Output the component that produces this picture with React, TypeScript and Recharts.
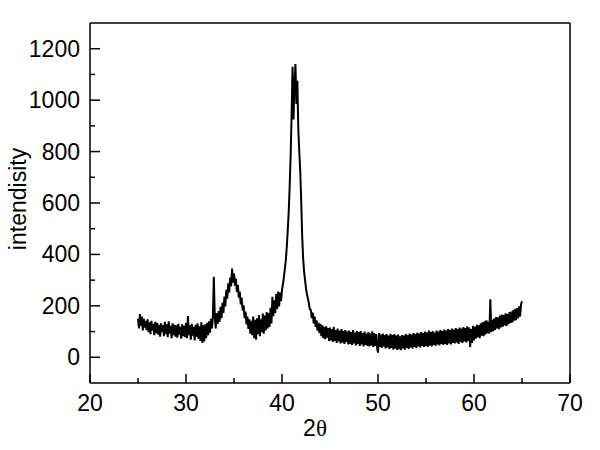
import { LineChart, Line, XAxis, YAxis, ReferenceLine } from "recharts";

// intensity every 0.1 degree (2θ)
const bgStart = 25;
const bgLow = [
  150, 112, 168, 122, 158, 104, 150, 115, 142, 106,
  148, 98, 136, 90, 142, 104, 130, 86, 138, 94,
  134, 88, 126, 80, 132, 98, 124, 82, 138, 90,
  128, 78, 140, 92, 122, 74, 132, 86, 126, 80,
  124, 76, 130, 88, 118, 72, 128, 82, 122, 78,
  134, 74, 160, 86, 124, 68, 130, 84, 118, 66,
  126, 80, 132, 72, 120, 64, 136, 56, 124, 62,
  128, 74, 134, 86, 140, 96, 150, 112, 156, 313,
];

const smallPeakStart = 33;
const smallPeak = [
  156, 112, 172, 130, 180, 138, 196, 152, 212, 172,
  236, 198, 262, 228, 288, 252, 310, 276, 345, 290,
  326, 278, 306, 254, 282, 232, 256, 206, 232, 182,
  202, 152, 178, 128, 158, 110, 148, 92, 142, 86,
  158, 74, 146, 68, 152, 90, 164, 82, 148, 98,
  170, 92, 162, 104, 176, 112, 172, 118, 192, 132,
  235, 160, 222, 172, 246, 188, 256, 198, 252, 218,
];

const mainPeakStart = 40;
const mainPeak = [
  262, 285, 312, 345, 378, 430, 495, 565, 665, 785,
  940, 1130, 925, 1060, 1140, 985, 1075, 885, 800, 725,
  610, 475, 385, 335, 300, 268, 245, 228, 210, 186,
  184, 152, 174, 132, 158, 118, 144, 104, 134, 94,
];

const bgHighStart = 44;
const bgHigh = [
  130, 82, 124, 74, 118, 70, 120, 76, 114, 64,
  116, 66, 110, 60, 118, 64, 106, 56, 112, 62,
  104, 54, 110, 58, 102, 52, 106, 60, 100, 50,
  104, 52, 98, 48, 106, 54, 96, 46, 102, 52,
  98, 44, 102, 50, 94, 42, 100, 48, 92, 44,
  98, 42, 92, 46, 101, 40, 94, 44, 90, 38,
  18, 94, 40, 88, 36, 92, 42, 86, 34, 90,
  38, 84, 32, 91, 36, 86, 30, 90, 34, 84,
  29, 88, 32, 82, 28, 86, 34, 84, 30, 90,
  36, 86, 32, 92, 38, 88, 34, 94, 40, 90,
  36, 96, 42, 92, 38, 98, 44, 94, 40, 100,
  44, 96, 40, 104, 46, 98, 42, 102, 48, 96,
  44, 104, 50, 100, 46, 106, 52, 102, 48, 108,
  52, 104, 48, 110, 54, 106, 50, 112, 56, 108,
  54, 114, 58, 110, 52, 116, 60, 112, 56, 118,
  62, 114, 58, 120, 64, 116, 40, 110, 56, 122,
  66, 118, 72, 126, 78, 124, 74, 132, 84, 136,
  82, 140, 89, 144, 94, 138, 92, 226, 99, 146,
  102, 151, 106, 156, 112, 154, 109, 162, 116, 166,
  119, 164, 124, 171, 122, 168, 129, 176, 134, 178,
  136, 184, 142, 188, 144, 191, 152, 198, 159, 206,
  218,
];

const xTicks = [20, 25, 30, 35, 40, 45, 50, 55, 60, 65, 70];
const yTicks = [0, 100, 200, 300, 400, 500, 600, 700, 800, 900, 1000, 1100, 1200];

const segment = (start: number, values: number[]) =>
  values.map((v, i) => ({ angle: Math.round((start + i * 0.1) * 10) / 10, value: v }));

const data = [
  ...segment(bgStart, bgLow),
  ...segment(smallPeakStart, smallPeak),
  ...segment(mainPeakStart, mainPeak),
  ...segment(bgHighStart, bgHigh),
];

const FONT = "Liberation Sans, Arial, sans-serif";

const XTick = (props: any) => {
  const { x, y, payload } = props;
  const major = payload.value % 10 === 0;
  return (
    <g>
      <line x1={x} x2={x} y1={y} y2={y - (major ? 9 : 5)} stroke="#000" strokeWidth={1.5} />
      {major && (
        <text x={x} y={y + 28} textAnchor="middle" fontSize={23} fontFamily={FONT} fill="#000">
          {payload.value}
        </text>
      )}
    </g>
  );
};

const YTick = (props: any) => {
  const { x, y, payload } = props;
  const major = payload.value % 200 === 0;
  return (
    <g>
      <line x1={x} x2={x + (major ? 10 : 5)} y1={y} y2={y} stroke="#000" strokeWidth={1.5} />
      {major && (
        <text x={x - 10} y={y + 8} textAnchor="end" fontSize={23} fontFamily={FONT} fill="#000">
          {payload.value}
        </text>
      )}
    </g>
  );
};

export default function App() {
  return (
    <div style={{ position: "absolute", left: 0, top: 0, background: "#fff" }}>
      <LineChart
        width={600}
        height={450}
        data={data}
        margin={{ top: 23, right: 30, left: 0, bottom: 0 }}
      >
        <XAxis
          dataKey="angle"
          type="number"
          domain={[20, 70]}
          ticks={xTicks}
          interval={0}
          height={67}
          tickSize={0}
          tickMargin={0}
          tickLine={false}
          axisLine={{ stroke: "#000", strokeWidth: 1.5 }}
          tick={<XTick />}
          label={{
            content: () => (
              <text x={315} y={436} textAnchor="middle" fontSize={23} fontFamily={FONT} fill="#000">
                <tspan>2</tspan>
                <tspan fontFamily="Liberation Serif, Times New Roman, serif">θ</tspan>
              </text>
            ),
          }}
        />
        <YAxis
          type="number"
          domain={[-100, 1300]}
          ticks={yTicks}
          interval={0}
          width={90}
          tickSize={0}
          tickMargin={0}
          tickLine={false}
          axisLine={{ stroke: "#000", strokeWidth: 1.5 }}
          tick={<YTick />}
          label={{
            content: () => (
              <text
                x={26}
                y={199}
                transform="rotate(-90, 26, 199)"
                textAnchor="middle"
                fontSize={23}
                fontFamily={FONT}
                fill="#000"
              >
                intendisity
              </text>
            ),
          }}
        />
        <ReferenceLine y={1300} stroke="#000" strokeWidth={1.5} />
        <ReferenceLine x={70} stroke="#000" strokeWidth={1.5} />
        <Line
          type="linear"
          dataKey="value"
          stroke="#000"
          strokeWidth={2}
          dot={false}
          isAnimationActive={false}
        />
      </LineChart>
    </div>
  );
}
